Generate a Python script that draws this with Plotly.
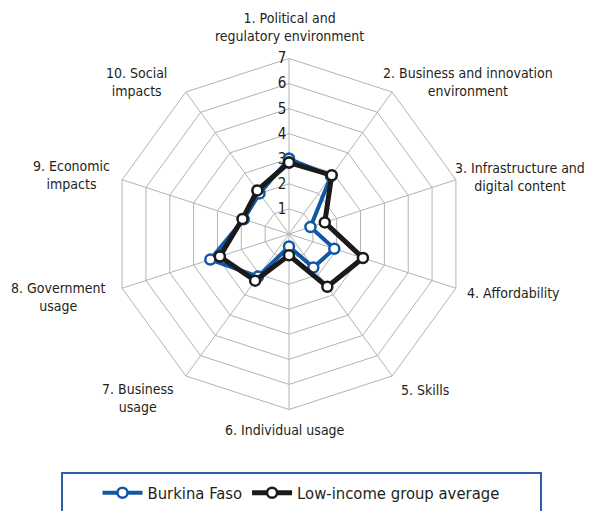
import plotly.graph_objects as go

# pillars of the index
categories = [
    "1. Political and<br>regulatory environment",
    "2. Business and innovation<br>environment",
    "3. Infrastructure and<br>digital content",
    "4. Affordability",
    "5. Skills",
    "6. Individual usage",
    "7. Business<br>usage",
    "8. Government<br>usage",
    "9. Economic<br>impacts",
    "10. Social<br>impacts",
]
burkina = [3.0, 2.85, 0.9, 1.9, 1.65, 0.5, 2.1, 3.3, 1.9, 2.0]
low_income = [2.85, 2.9, 1.5, 3.1, 2.6, 0.85, 2.3, 2.9, 1.95, 2.15]
radial_ticks = [1, 2, 3, 4, 5, 6, 7]

# where the category labels sit (pixel centres in the figure)
label_pos = [(281, 19), (460, 74), (512, 169), (505, 285), (417, 382),
             (277, 422), (130, 390), (50, 289), (63, 167), (128, 74)]

W, H = 593, 511
CX, CY, R = 281, 226, 175.5  # centre and radius of the web, in pixels
BLUE = "#1257a3"
BLACK = "#1a1a1a"
GRID = "#b3b3b3"
FONT = "DejaVu Sans Condensed, Liberation Sans, Arial, sans-serif"

fig = go.Figure()


def add_series(name, values, color, width):
    fig.add_trace(go.Scatterpolar(
        r=values + values[:1],
        theta=categories + categories[:1],
        mode="lines+markers",
        name=name,
        line=dict(color=color, width=width),
        marker=dict(symbol="circle", size=10, color="white",
                    line=dict(color=color, width=2.5)),
    ))


add_series("Burkina Faso", burkina, BLUE, 4)
add_series("Low-income group average", low_income, BLACK, 5)

annotations = []
for text, (px, py) in zip(categories, label_pos):
    annotations.append(dict(
        text=text, x=px / W, y=1 - py / H, xref="paper", yref="paper",
        xanchor="center", yanchor="middle", align="center",
        showarrow=False, font=dict(size=14),
    ))

fig.update_layout(
    width=W,
    height=H,
    margin=dict(l=0, r=0, t=0, b=0),
    paper_bgcolor="white",
    font=dict(family=FONT, size=14, color="#231f20"),
    polar=dict(
        domain=dict(x=[(CX - R) / W, (CX + R) / W],
                    y=[(H - CY - R) / H, (H - CY + R) / H]),
        bgcolor="white",
        gridshape="linear",
        radialaxis=dict(
            range=[0, 7],
            tickvals=radial_ticks,
            angle=90,
            tickangle=90,
            side="counterclockwise",
            showline=False,
            ticks="",
            gridcolor=GRID,
            gridwidth=1,
            layer="below traces",
            tickfont=dict(size=15),
        ),
        angularaxis=dict(
            direction="clockwise",
            rotation=90,
            showline=True,
            linecolor=GRID,
            linewidth=1,
            gridcolor=GRID,
            ticks="",
            showticklabels=False,
            layer="below traces",
        ),
    ),
    annotations=annotations,
    showlegend=True,
    legend=dict(
        orientation="h",
        x=(301 - 8) / W,
        xanchor="center",
        y=1 - 485 / H,
        yanchor="middle",
        itemwidth=40,
        font=dict(size=16.5),
    ),
    shapes=[dict(
        type="rect", xref="paper", yref="paper",
        x0=54 / W, x1=533 / W, y0=-0.05, y1=1 - 465 / H,
        line=dict(color="#2a5fa5", width=2),
    )],
)

fig.write_html("out.html")
